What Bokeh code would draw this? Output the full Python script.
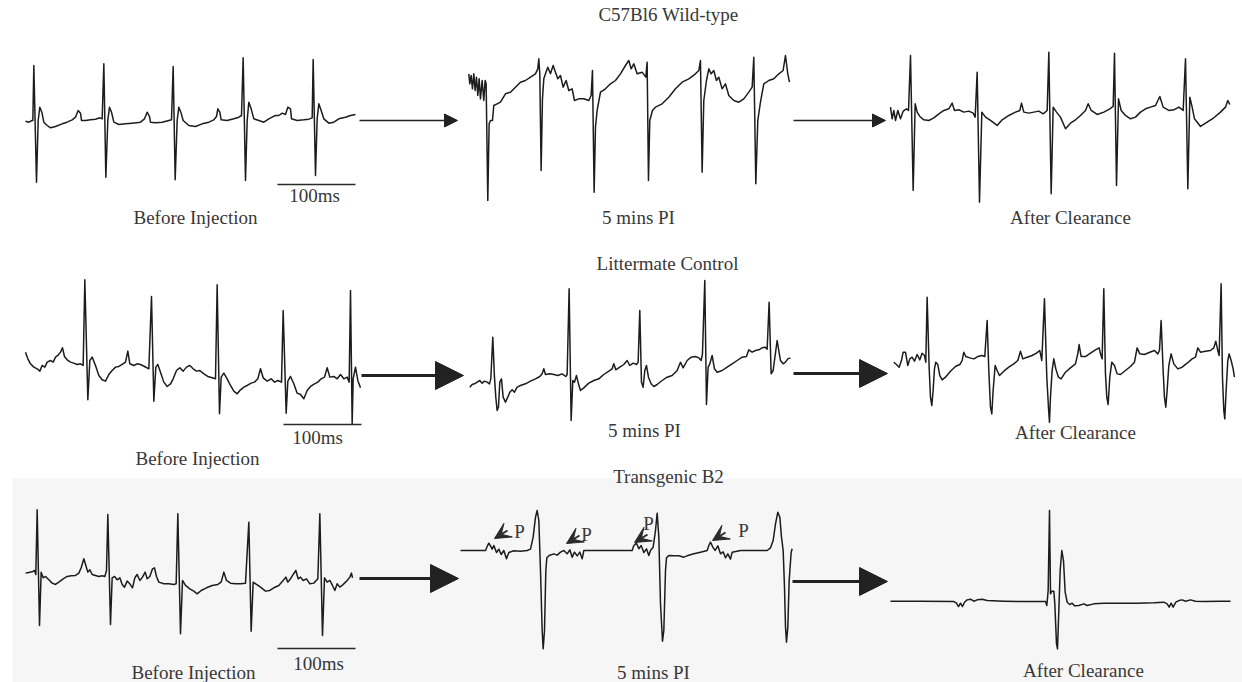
from bokeh.plotting import figure
from bokeh.models import Range1d, Arrow, NormalHead, VeeHead, ColumnDataSource
from bokeh.embed import file_html
from bokeh.resources import INLINE
from bokeh.core.properties import value

# ---------------- DATA: ECG traces (t in samples, v in arbitrary units, up = positive) -----
WT_BEFORE = [(0,-2),(10,-5),(20,0),(22,0),(25,165),(33,-185),(38,0),(43,40),(49,25),(55,-5),(65,-15),(75,-22),(90,-18),(110,-10),(125,-5),(140,2),(150,10),(158,30),(165,22),(168,0),(180,0),(195,2),(210,4),(223,8),(230,5),(235,170),(241,-170),(247,2),(252,40),(258,25),(265,-5),(280,-12),(300,-10),(320,-8),(345,-5),(357,5),(365,25),(372,12),(375,-5),(390,-7),(410,-5),(430,0),(438,2),(443,162),(449,-178),(455,0),(460,40),(466,25),(473,0),(490,-15),(510,-18),(530,-10),(550,-5),(565,2),(573,12),(577,35),(583,25),(587,2),(605,0),(625,5),(640,10),(648,15),(653,188),(660,-180),(665,0),(670,55),(677,35),(685,5),(700,0),(715,-5),(730,5),(740,10),(750,15),(760,15),(770,22),(780,18),(787,40),(795,35),(798,5),(815,0),(835,2),(850,4),(860,8),(863,183),(870,-165),(875,5),(880,50),(887,30),(895,5),(910,-8),(925,-5),(940,5),(960,10),(975,15),(990,18)]
WT_5MIN = [(0,140),(3,110),(7,135),(11,95),(15,140),(19,90),(23,130),(27,75),(31,125),(35,65),(40,120),(45,60),(49,120),(52,110),(57,-240),(61,-10),(65,0),(71,0),(75,45),(85,50),(95,55),(110,80),(125,85),(140,100),(155,115),(170,120),(185,130),(200,140),(207,155),(210,185),(213,140),(217,-150),(221,65),(225,125),(230,140),(237,160),(245,140),(253,165),(260,145),(267,125),(275,135),(283,100),(292,120),(300,90),(310,95),(317,60),(330,65),(345,65),(360,60),(367,75),(371,150),(376,-215),(380,-20),(385,30),(395,85),(410,95),(425,110),(440,120),(455,140),(470,165),(480,180),(487,155),(495,170),(505,140),(520,145),(531,130),(535,175),(539,-180),(543,0),(551,30),(560,40),(580,50),(600,70),(620,95),(640,115),(660,125),(680,140),(690,150),(695,180),(700,-155),(705,60),(713,120),(720,155),(727,140),(735,150),(743,120),(750,130),(760,95),(770,110),(780,75),(795,60),(810,55),(825,65),(840,85),(850,100),(855,190),(861,-190),(867,0),(875,55),(885,110),(900,120),(915,125),(930,140),(943,150),(950,195),(957,140),(962,115)]
WT_AFTER = [(0,20),(5,-15),(10,10),(15,-20),(22,10),(30,-15),(38,8),(48,15),(54,10),(60,175),(68,-230),(74,30),(80,5),(88,-8),(100,-18),(115,-20),(130,-12),(145,0),(160,10),(175,15),(185,32),(192,10),(205,12),(220,5),(235,8),(248,2),(254,-10),(260,125),(267,-265),(274,5),(285,-10),(300,-20),(320,-35),(335,-18),(355,-5),(375,5),(388,10),(393,32),(400,5),(415,2),(430,5),(445,8),(458,0),(470,10),(475,185),(482,-240),(488,20),(498,5),(510,-10),(525,-45),(540,-28),(555,-18),(570,-5),(585,10),(593,30),(602,10),(620,-2),(640,5),(658,15),(668,22),(672,182),(678,-215),(684,45),(692,10),(705,-5),(720,-15),(735,-10),(750,5),(765,15),(780,20),(795,25),(808,52),(818,20),(835,10),(850,12),(865,20),(878,10),(885,165),(892,-225),(898,50),(905,20),(912,-15),(930,-38),(950,-25),(970,-12),(990,5),(1005,20),(1012,40),(1018,28)]

LC_BEFORE = [(0,35),(7,15),(15,0),(25,-10),(35,-15),(43,-22),(50,-5),(58,-10),(65,5),(75,10),(83,5),(90,20),(97,25),(105,35),(111,48),(117,22),(125,12),(135,5),(145,2),(155,-2),(165,0),(173,-5),(178,252),(187,-108),(193,10),(200,20),(210,-5),(220,-35),(230,-48),(240,-52),(250,-32),(260,-20),(270,-10),(280,-8),(290,-2),(300,5),(307,38),(313,0),(325,-5),(335,0),(345,-2),(357,-8),(370,-15),(378,202),(385,-112),(391,-10),(397,-2),(405,-25),(415,-55),(425,-68),(435,-60),(443,-45),(453,-20),(463,-12),(473,-22),(483,-10),(493,-5),(503,-15),(513,-22),(523,-20),(535,-30),(547,-38),(560,-42),(570,-45),(575,237),(582,-150),(587,-40),(595,-28),(605,-45),(615,-65),(625,-82),(635,-90),(645,-78),(655,-70),(665,-65),(677,-58),(687,-55),(697,-45),(705,-15),(713,-42),(725,-52),(737,-45),(747,-55),(757,-50),(768,-55),(773,160),(782,-148),(787,-52),(795,-38),(805,-60),(815,-88),(825,-92),(835,-105),(845,-80),(855,-68),(867,-60),(877,-55),(887,-45),(897,-40),(905,-12),(913,-40),(925,-38),(935,-45),(945,-32),(955,-45),(965,-40),(971,-55),(975,220),(980,-180),(983,-45),(990,-10),(997,-50),(1005,-72)]
LC_5MIN = [(0,-35),(7,-27),(14,-25),(22,-20),(30,-15),(37,-23),(44,-17),(52,-20),(59,-25),(63,-10),(69,115),(74,-5),(78,-65),(82,-105),(86,-95),(90,-20),(95,-10),(100,-65),(107,-80),(114,-65),(120,-50),(127,-43),(134,-50),(142,-35),(152,-30),(167,-25),(182,-17),(197,-10),(210,-3),(217,5),(222,20),(227,3),(240,5),(252,3),(264,0),(277,5),(288,-3),(292,3),(298,260),(304,-135),(309,-15),(314,-20),(320,0),(326,-25),(332,-45),(342,-37),(357,-23),(372,-15),(387,-10),(402,3),(417,13),(427,20),(432,35),(438,17),(450,25),(462,33),(472,45),(480,30),(490,37),(500,33),(505,40),(510,195),(515,-20),(520,-35),(525,15),(530,30),(536,-5),(544,-25),(552,-33),(562,-27),(577,-15),(592,-5),(607,0),(622,15),(632,40),(640,23),(652,45),(664,55),(677,57),(687,53),(694,45),(698,65),(705,285),(710,-87),(715,25),(720,35),(727,60),(734,20),(742,10),(757,15),(772,25),(787,35),(802,45),(817,55),(830,57),(837,77),(847,70),(857,75),(867,77),(877,83),(887,85),(892,79),(898,220),(904,5),(910,15),(916,60),(922,105),(927,75),(932,45),(940,35),(947,40),(954,50),(962,53)]
LC_AFTER = [(0,0),(8,-7),(16,-15),(23,5),(28,30),(35,30),(42,-10),(48,10),(55,15),(62,3),(70,23),(78,7),(85,27),(92,20),(96,0),(100,195),(106,-15),(110,-105),(114,-130),(118,-85),(122,-20),(126,0),(132,-7),(138,-40),(145,-53),(155,-45),(170,-27),(185,-13),(198,-7),(205,5),(210,30),(216,17),(228,13),(240,10),(252,17),(265,20),(273,17),(280,125),(285,-25),(290,-135),(294,-155),(298,-85),(304,-10),(310,-25),(317,-40),(330,-27),(345,-15),(360,-5),(372,5),(380,33),(387,10),(400,15),(415,20),(428,27),(438,35),(444,5),(452,190),(459,-45),(464,-135),(467,-180),(470,-105),(475,-25),(480,10),(486,-20),(494,-45),(502,-50),(515,-30),(530,-17),(545,-5),(552,25),(556,53),(562,17),(575,17),(590,27),(605,37),(616,43),(620,25),(625,10),(630,220),(635,-35),(639,-105),(643,-127),(648,-45),(654,0),(662,-10),(670,-35),(680,-37),(695,-25),(710,-13),(722,0),(730,43),(738,25),(752,23),(768,30),(782,35),(792,25),(797,35),(802,125),(808,-25),(812,-105),(816,-135),(820,-85),(825,-10),(832,25),(840,-5),(852,-20),(865,-15),(880,-3),(895,10),(905,15),(912,43),(920,30),(935,33),(950,35),(960,43),(966,63),(972,35),(976,20),(982,235),(986,-45),(990,-145),(993,-170),(997,-85),(1002,5),(1006,25),(1012,5),(1018,-20),(1022,-45)]

TG_BEFORE = [(0,2),(10,4),(20,6),(27,10),(31,-2),(35,192),(42,-155),(47,5),(53,-12),(60,-8),(70,-18),(80,-28),(90,-32),(100,-25),(113,-15),(125,-8),(137,-6),(150,-5),(160,2),(167,18),(175,45),(181,25),(187,5),(193,12),(200,-2),(210,-5),(220,-8),(230,-6),(238,-8),(243,10),(247,178),(255,-152),(260,-12),(267,-8),(275,-18),(283,-12),(290,-32),(297,-40),(305,-22),(313,-30),(321,-42),(328,-12),(335,-2),(343,-20),(351,-10),(359,5),(365,-15),(373,-8),(381,15),(387,18),(393,-8),(400,-25),(415,-30),(430,-30),(445,-32),(452,-30),(457,180),(465,-180),(471,-20),(480,-35),(493,-45),(505,-52),(515,-60),(527,-50),(543,-42),(560,-35),(577,-32),(587,-25),(595,5),(603,-20),(615,-28),(630,-30),(645,-30),(660,-28),(670,155),(677,-172),(683,-25),(693,-32),(705,-40),(720,-52),(733,-50),(745,-42),(760,-35),(773,-20),(781,-10),(787,-25),(795,-15),(803,-2),(811,10),(818,-15),(825,-10),(833,-20),(843,-15),(853,-30),(865,-28),(877,-15),(883,180),(891,-185),(897,-12),(905,-25),(913,-20),(921,-35),(928,-50),(935,-30),(943,-40),(950,-35),(957,-28),(965,-20),(973,-10),(978,2),(981,-12)]
TG_5MIN = [(0,0),(30,0),(75,0),(80,12),(85,22),(90,14),(95,4),(100,15),(108,-6),(115,4),(122,-12),(130,0),(138,-25),(145,-6),(160,-1),(180,-2),(200,0),(210,4),(218,40),(225,100),(230,120),(235,90),(240,-60),(245,-240),(248,-295),(252,-240),(256,-60),(259,-22),(266,-15),(280,-10),(290,-14),(300,-5),(310,0),(320,-10),(328,2),(335,-20),(342,-5),(350,-16),(358,-5),(365,-25),(370,0),(400,0),(440,0),(480,0),(515,0),(520,15),(528,22),(535,5),(542,15),(550,-6),(558,5),(565,-15),(570,0),(578,10),(585,60),(590,112),(595,40),(600,-160),(606,-272),(610,-240),(615,-60),(618,-22),(625,-15),(640,-16),(655,-16),(670,-20),(680,-16),(700,-10),(720,-5),(740,0),(745,15),(750,25),(757,10),(764,0),(772,14),(780,-10),(788,-4),(795,-22),(802,-10),(810,-26),(815,-5),(840,0),(880,0),(920,0),(930,8),(938,30),(945,80),(952,115),(958,100),(963,40),(968,0),(972,-110),(975,-230),(978,-275),(982,-230),(986,-90),(992,-5),(995,5)]
TG_AFTER = [(0,0),(90,0),(190,-1),(198,-6),(204,-16),(210,-6),(216,-16),(222,-3),(230,4),(240,6),(250,0),(260,4),(275,6),(290,2),(340,0),(390,-1),(440,-1),(465,-1),(469,-13),(473,32),(477,272),(480,22),(484,30),(490,30),(493,-8),(498,-128),(501,-143),(505,-28),(509,92),(514,152),(519,122),(524,27),(530,-3),(538,-10),(545,-6),(552,-14),(565,-13),(580,-8),(590,-13),(610,-8),(640,-6),(690,-6),(740,-6),(790,-5),(820,-3),(830,-8),(836,-18),(842,-6),(848,-18),(856,-3),(865,2),(875,4),(885,0),(900,4),(915,0),(940,-1),(990,0),(1020,0)]

# P-wave markers on the transgenic 5 min trace (t of P wave)
P_WAVE_T = [102, 318, 522, 756]

ROW_TITLES = ["C57Bl6 Wild-type", "Littermate Control", "Transgenic B2"]
PANEL_LABELS = ["Before Injection", "5 mins PI", "After Clearance"]
SCALE_LABEL = "100ms"
SCALE_SAMPLES = 234  # samples in 100 ms

# ---------------- LAYOUT ----------------
W, H = 1242, 682
p = figure(width=W, height=H, output_backend="svg", toolbar_location=None,
           x_range=Range1d(0, W), y_range=Range1d(H, 0), min_border=0)
p.axis.visible = False
p.grid.visible = False
p.outline_line_color = None
p.background_fill_color = "white"
p.border_fill_color = "white"

SX = SY = 1 / 3.0
TRACE_COLOR = "#1c1c1c"
TEXT_COLOR = "#383838"
FONT = value("Liberation Serif")

# faint grey panel behind the transgenic row
p.quad(left=[12], right=[W], top=[478], bottom=[H], fill_color="#f6f6f6", line_color=None)

traces = [
    (WT_BEFORE, 25, 120), (WT_5MIN, 468.3, 120), (WT_AFTER, 890, 113.3),
    (LC_BEFORE, 25, 363.3), (LC_5MIN, 469.3, 375), (LC_AFTER, 893.3, 361.7),
    (TG_BEFORE, 25, 573.3), (TG_5MIN, 460, 550), (TG_AFTER, 890, 600.7),
]
for data, ox, oy in traces:
    xs = [ox + t * SX for t, v in data]
    ys = [oy - v * SY for t, v in data]
    p.line(xs, ys, line_color=TRACE_COLOR, line_width=1.5, line_join="round")

# transition arrows
arrows = [
    (359, 120, 457, 120, 1.7, 13), (793, 120, 885, 120, 1.7, 13),
    (361, 375, 463, 375, 3.2, 28), (793, 373, 887, 373, 3.2, 28),
    (359, 578, 458, 578, 3.2, 28), (792, 581, 887, 581, 3.2, 28),
]
for x0, y0, x1, y1, lw, hs in arrows:
    p.add_layout(Arrow(x_start=x0, y_start=y0, x_end=x1, y_end=y1, line_width=lw,
                       line_color="#222222",
                       end=NormalHead(size=hs, fill_color="#222222", line_color="#222222", line_width=1)))

# scale bars
scale_bars = [(277, 184), (283, 424), (277, 648)]
for sx, sy in scale_bars:
    p.line([sx, sx + SCALE_SAMPLES * SX], [sy, sy], line_color="#2a2a2a", line_width=1.6)

# P-wave arrows (dart-shaped heads)
p_tip_dy = [-12, -7, -8, -10]
for i, t in enumerate(P_WAVE_T):
    tx = 460 + t * SX
    ty = 550 + p_tip_dy[i]
    p.add_layout(Arrow(x_start=tx + 13, y_start=ty - 8, x_end=tx, y_end=ty, line_width=2,
                       line_color="#2a2a2a",
                       end=VeeHead(size=16, fill_color="#2a2a2a", line_color="#2a2a2a")))

# texts
txt = dict(
    x=[668, 667, 668,
       195, 638, 1070,
       197, 644, 1075,
       193, 653, 1083,
       314, 317, 318,
       519, 586, 648, 743],
    y=[14, 263, 476,
       217, 217, 217,
       458, 430, 432,
       672, 672, 670,
       195, 437, 663,
       531, 534, 523, 530],
    text=ROW_TITLES + PANEL_LABELS * 3 + [SCALE_LABEL] * 3 + ["P"] * 4,
)
p.text(x="x", y="y", text="text", source=ColumnDataSource(txt), text_align="center",
       text_baseline="middle", text_font=FONT, text_font_size="19px", text_color=TEXT_COLOR)

open("out.html", "w").write(file_html(p, INLINE))
